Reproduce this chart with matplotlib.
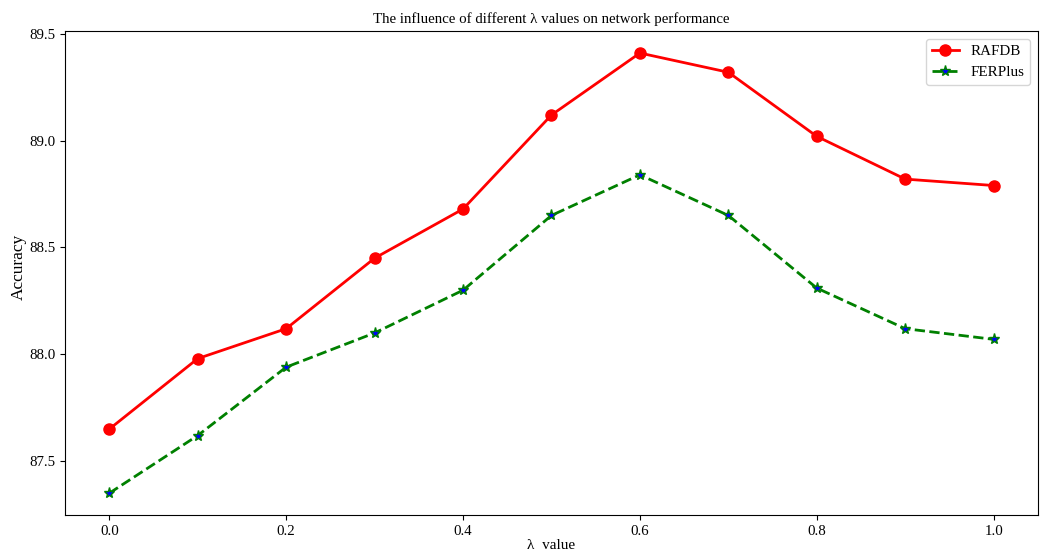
import matplotlib.pyplot as plt

plt.rcParams["font.family"] = ["Liberation Serif", "DejaVu Serif"]

lambdas = [0.0, 0.1, 0.2, 0.3, 0.4, 0.5, 0.6, 0.7, 0.8, 0.9, 1.0]
rafdb = [87.65, 87.98, 88.12, 88.45, 88.68, 89.12, 89.41, 89.32, 89.02, 88.82, 88.79]
ferplus = [87.35, 87.62, 87.94, 88.10, 88.30, 88.65, 88.84, 88.65, 88.31, 88.12, 88.07]

fig, ax = plt.subplots(figsize=(10.41, 5.54), dpi=100)

ax.plot(lambdas, rafdb, color="red", linestyle="-", marker="o",
        markersize=8, linewidth=2, label="RAFDB")
ax.plot(lambdas, ferplus, color="green", linestyle="--", marker="*",
        markersize=8, markerfacecolor="blue", markeredgecolor="green",
        linewidth=2, label="FERPlus")

ax.set_title("The influence of different λ values on network performance", fontsize=10.7)
ax.set_xlabel("λ  value", fontsize=11, labelpad=1)
ax.set_ylabel("Accuracy", fontsize=12.5)
ax.yaxis.set_label_coords(-0.039, 0.512)
ax.tick_params(labelsize=10.7)
ax.legend(loc="upper right", fontsize=10.8, handlelength=1.8)

plt.subplots_adjust(left=0.0625, right=0.997, top=0.944, bottom=0.07)

plt.savefig("out.png", dpi=100)
